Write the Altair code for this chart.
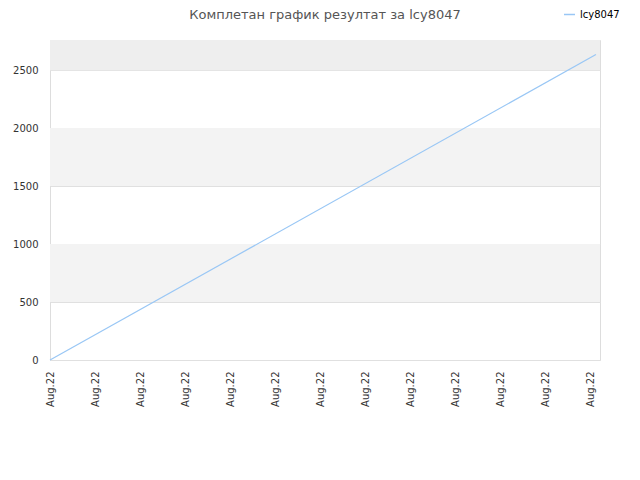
import altair as alt
import pandas as pd

# data
x_pos = [0, 12.13]
scores = [0, 2635]
series = ["lcy8047", "lcy8047"]
band_lo = [500, 1500, 2500]
band_hi = [1000, 2000, 2760]
band_col = ["#f3f3f3", "#f3f3f3", "#eeeeee"]
tick_pos = list(range(13))
tick_label = "Aug.22"
y_ticks = [0, 500, 1000, 1500, 2000, 2500]

line_df = pd.DataFrame({"x": x_pos, "y": scores, "s": series})
band_df = pd.DataFrame({"lo": band_lo, "hi": band_hi, "c": band_col})

FONT = "DejaVu Sans"
xs = alt.Scale(domain=[0, 12.22], nice=False, zero=False)
ys = alt.Scale(domain=[0, 2760], nice=False)

bands = alt.Chart(band_df).mark_rect().encode(
    y=alt.Y("lo:Q", scale=ys),
    y2="hi:Q",
    x=alt.value(0),
    x2=alt.value(550),
    fill=alt.Fill("c:N", scale=None, legend=None),
)

line = alt.Chart(line_df).mark_line(strokeWidth=1.2).encode(
    x=alt.X("x:Q", scale=xs, title=None,
            axis=alt.Axis(values=tick_pos, labelExpr=f"'{tick_label}'", labelAngle=270,
                          labelAlign="right", labelBaseline="middle", labelFont=FONT,
                          labelFontSize=10, labelColor="#333333", ticks=False, domain=False,
                          grid=False, labelPadding=11)),
    y=alt.Y("y:Q", scale=ys, title=None,
            axis=alt.Axis(values=y_ticks, format="d", labelFont=FONT, labelFontSize=10,
                          labelColor="#333333", ticks=False, domain=False, grid=True,
                          gridColor="#e0e0e0", labelPadding=12)),
    color=alt.Color("s:N", scale=alt.Scale(domain=["lcy8047"], range=["#99c7f5"]),
                    legend=alt.Legend(title=None, orient="none", legendX=513, legendY=-32,
                                      symbolType="stroke", symbolSize=120, symbolStrokeWidth=1.5,
                                      labelFont=FONT, labelFontSize=10, labelColor="#000000")),
)

chart = alt.layer(bands, line).properties(
    width=550, height=320,
    title=alt.TitleParams("Комплетан график резултат за lcy8047", font=FONT, fontSize=13,
                          fontWeight="normal", color="#555555", anchor="middle", offset=0,
                          dy=14),
    autosize=alt.AutoSizeParams(type="none"),
    padding={"left": 42, "top": 32, "right": 30, "bottom": 100},
).configure_view(stroke="#dddddd")

chart.save("out.html", embed_options={"renderer": "svg", "actions": False})
